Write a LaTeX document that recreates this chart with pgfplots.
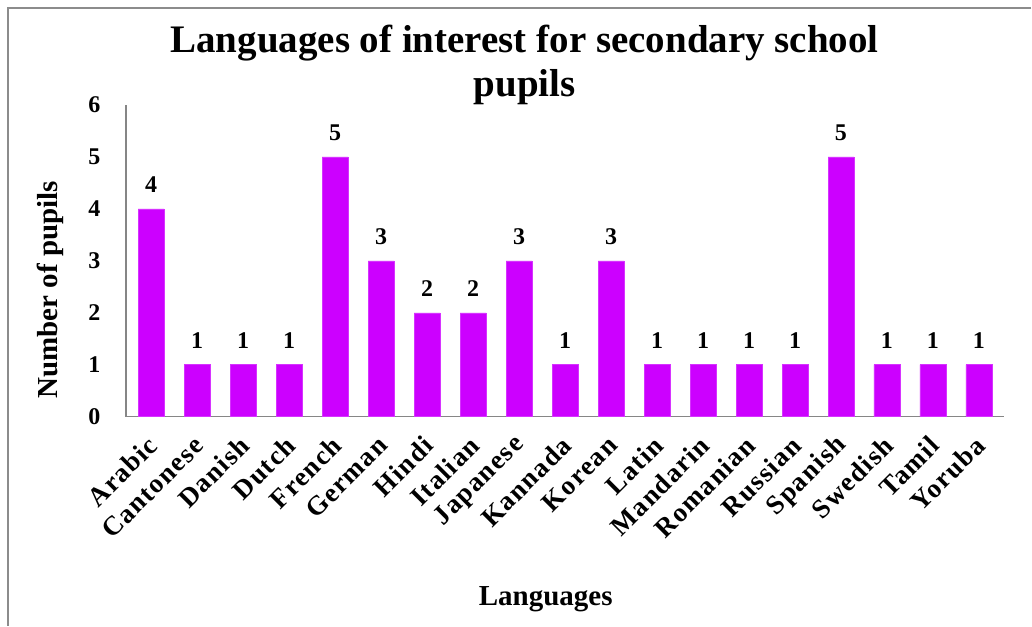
\documentclass[border=0pt]{standalone}
\usepackage{fontspec}
\setmainfont{Liberation Serif}
\newfontfamily\labfont[LetterSpace=5]{Liberation Serif}
\usepackage{pgfplots}
\pgfplotsset{compat=1.18}
\definecolor{barc}{HTML}{CC00FF}
\definecolor{axc}{HTML}{868686}
\definecolor{brd}{HTML}{8C8C8C}
\begin{document}
\begin{tikzpicture}[x=1bp,y=1bp]
\path (0,0) rectangle (1032,-626);
\draw[brd, line width=1.6bp] (1032,-8) -- (8,-8) -- (8,-626);
\node[anchor=base, font=\bfseries\fontsize{39bp}{44bp}\selectfont] at (525,-53) {Languages of interest for secondary school};
\node[anchor=base, font=\bfseries\fontsize{39bp}{44bp}\selectfont] at (525,-97) {pupils};
\begin{axis}[
  at={(126bp,-417bp)}, anchor=south west,
  scale only axis, width=879bp, height=312bp,
  xmin=-0.55, xmax=18.55, ymin=0, ymax=6,
  axis x line*=bottom, axis y line*=left,
  axis line style={axc, line width=1.3bp},
  major tick length=0pt,
  ytick={0,1,2,3,4,5,6},
  xtick=data,
  xticklabels={Arabic,Cantonese,Danish,Dutch,French,German,Hindi,Italian,Japanese,Kannada,Korean,Latin,Mandarin,Romanian,Russian,Spanish,Swedish,Tamil,Yoruba},
  xticklabel style={font=\labfont\bfseries\fontsize{27bp}{30bp}\selectfont, xshift=4bp, yshift=-22bp, rotate=45, anchor=east},
  yticklabel style={font=\bfseries\fontsize{24bp}{28bp}\selectfont, xshift=-22bp},
  /pgf/number format/assume math mode=true,
  xlabel={Languages},
  ylabel={Number of pupils},
  xlabel style={font=\bfseries\fontsize{29bp}{34bp}\selectfont, at={(axis description cs:0.478,0)}, anchor=center, yshift=-183bp},
  ylabel style={font=\bfseries\fontsize{29bp}{34bp}\selectfont, at={(axis description cs:-0.0865,0.407)}, anchor=center},
  ybar, bar width=26bp,
  nodes near coords,
  every node near coord/.append style={font=\bfseries\fontsize{24bp}{28bp}\selectfont, yshift=13bp},
  clip=false,
]
\addplot[fill=barc, draw=barc!80!white, line width=0.5bp] coordinates {
(0,4) (1,1) (2,1) (3,1) (4,5) (5,3) (6,2) (7,2) (8,3) (9,1)
(10,3) (11,1) (12,1) (13,1) (14,1) (15,5) (16,1) (17,1) (18,1)
};
\end{axis}
\end{tikzpicture}
\end{document}
